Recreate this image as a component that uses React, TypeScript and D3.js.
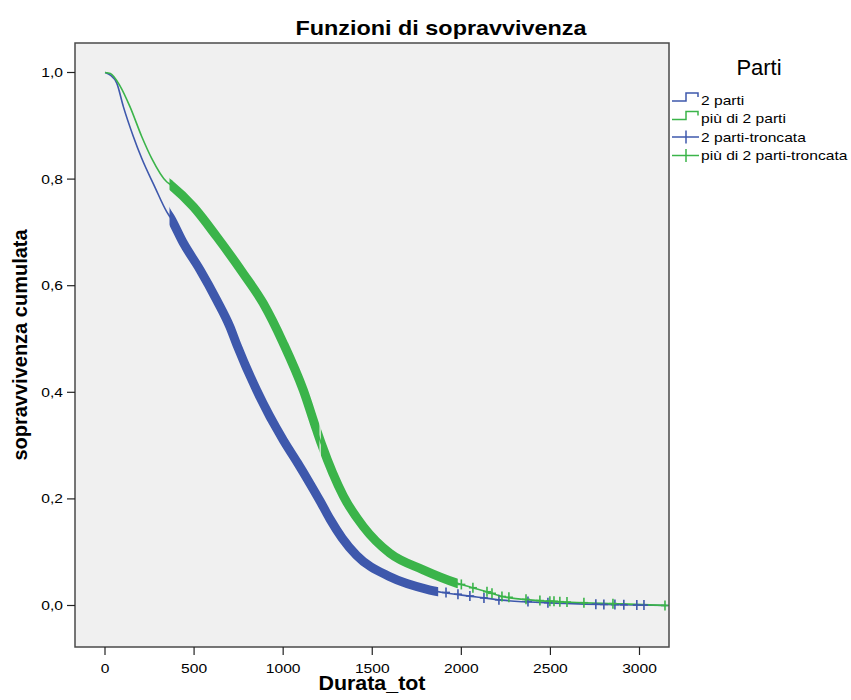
import React from 'react';
import * as d3 from 'd3';

// Kaplan-Meier estimates (time, cumulative survival)
const blueTimes = [0, 30, 66, 103, 159, 206, 280, 346, 365, 440, 533, 627, 701, 739, 851, 1001, 1080, 1150, 1207, 1263, 1330, 1412, 1599, 1824, 2086, 2228, 2500, 2800, 3160];
const blueSurv = [1.0, 0.995, 0.98, 0.936, 0.88, 0.839, 0.785, 0.739, 0.729, 0.68, 0.63, 0.573, 0.523, 0.49, 0.404, 0.31, 0.268, 0.229, 0.196, 0.162, 0.127, 0.094, 0.054, 0.029, 0.016, 0.01, 0.005, 0.002, 0.0];

const greenTimes = [0, 30, 84, 140, 206, 262, 346, 365, 496, 627, 776, 888, 1001, 1113, 1188, 1216, 1337, 1450, 1599, 1786, 1974, 2142, 2228, 2400, 2615, 2900, 3150];
const greenSurv = [1.0, 0.998, 0.975, 0.936, 0.88, 0.839, 0.795, 0.79, 0.748, 0.692, 0.623, 0.567, 0.492, 0.404, 0.329, 0.302, 0.206, 0.148, 0.098, 0.067, 0.042, 0.026, 0.017, 0.01, 0.006, 0.003, 0.0];

// ranges where censored marks are so dense they merge into a band
const blueDense = [[362, 1870]];
const greenDense = [[362, 1204], [1211, 1980]];

// sparse censored times in the tail
const blueCensored = [1914, 1981, 2048, 2127, 2211, 2374, 2486, 2755, 2800, 2862, 2912, 2985, 3025];
const greenCensored = [2000, 2065, 2144, 2172, 2228, 2267, 2363, 2441, 2497, 2520, 2553, 2593, 2688, 2851, 3143];

const xTicks = [0, 500, 1000, 1500, 2000, 2500, 3000];
const yTicks = [0, 0.2, 0.4, 0.6, 0.8, 1.0];

const legendLabels = ['2 parti', 'più di 2 parti', '2 parti-troncata', 'più di 2 parti-troncata'];

const BLUE = '#3E58AC';
const GREEN = '#3BB44A';
const FONT = '"Liberation Sans", Arial, sans-serif';

function Txt(props: { x: number; y: number; size: number; sx?: number; anchor?: string; bold?: boolean; rotate?: number; children: any }) {
  const { x, y, size, sx = 1, anchor = 'start', bold, rotate = 0, children } = props;
  return (
    <text
      transform={`translate(${x},${y}) rotate(${rotate}) scale(${sx},1)`}
      textAnchor={anchor}
      fontFamily={FONT}
      fontSize={size}
      fontWeight={bold ? 'bold' : 'normal'}
      fill="#000"
    >
      {children}
    </text>
  );
}

export default function App() {
  const plot = { left: 75, top: 43, right: 669, bottom: 647 };

  const x = d3.scaleLinear().domain([0, 3000]).range([105, 639.5]);
  const y = d3.scaleLinear().domain([0, 1]).range([605.5, 72.5]);

  const line = d3.line<[number, number]>()
    .x(d => x(d[0]))
    .y(d => y(d[1]))
    .curve(d3.curveMonotoneX);

  const blueData = blueTimes.map((t, i) => [t, blueSurv[i]] as [number, number]);
  const greenData = greenTimes.map((t, i) => [t, greenSurv[i]] as [number, number]);
  const bluePath = line(blueData) || '';
  const greenPath = line(greenData) || '';

  // survival value at a time, read from the listed points (for placing the tail marks)
  const survAt = (times: number[], surv: number[], t: number) => {
    const i = d3.bisectRight(times, t) - 1;
    if (i >= times.length - 1) return surv[surv.length - 1];
    const f = (t - times[i]) / (times[i + 1] - times[i]);
    return surv[i] + f * (surv[i + 1] - surv[i]);
  };

  const cross = (cx: number, cy: number, color: string, key: string) => (
    <g key={key} stroke={color} strokeWidth={1.6}>
      <line x1={cx - 4} x2={cx + 4} y1={cy} y2={cy} />
      <line x1={cx} x2={cx} y1={cy - 5} y2={cy + 5} />
    </g>
  );

  const series = [
    { path: bluePath, color: BLUE, dense: blueDense, cens: blueCensored, times: blueTimes, surv: blueSurv, id: 'b' },
    { path: greenPath, color: GREEN, dense: greenDense, cens: greenCensored, times: greenTimes, surv: greenSurv, id: 'g' },
  ];

  const legendRows = [100, 118.5, 137, 155.5];

  return (
    <svg width={851} height={700} style={{ position: 'absolute', left: 0, top: 0, background: '#fff' }}>
      <defs>
        <clipPath id="plotClip">
          <rect x={plot.left} y={plot.top} width={plot.right - plot.left} height={plot.bottom - plot.top} />
        </clipPath>
        {series.map(s => (
          <clipPath id={`dense-${s.id}`} key={s.id}>
            {s.dense.map((r, i) => (
              <rect key={i} x={x(r[0])} y={plot.top} width={x(r[1]) - x(r[0])} height={plot.bottom - plot.top} />
            ))}
          </clipPath>
        ))}
      </defs>

      <rect x={plot.left} y={plot.top} width={plot.right - plot.left} height={plot.bottom - plot.top} fill="#F0F0F0" />

      <g clipPath="url(#plotClip)">
        {series.map(s => (
          <g key={s.id}>
            <path d={s.path} fill="none" stroke={s.color} strokeWidth={1.6} />
            <path d={s.path} fill="none" stroke={s.color} strokeWidth={9} clipPath={`url(#dense-${s.id})`} />
          </g>
        ))}
        {series.map(s => s.cens.map((t, i) => cross(x(t), y(survAt(s.times, s.surv, t)), s.color, `${s.id}${i}`)))}
      </g>

      <rect x={plot.left} y={plot.top} width={plot.right - plot.left} height={plot.bottom - plot.top} fill="none" stroke="#4a4a4a" strokeWidth={1.5} />

      {/* y axis */}
      {yTicks.map(v => (
        <g key={v}>
          <line x1={67} x2={plot.left} y1={y(v)} y2={y(v)} stroke="#222" strokeWidth={1.2} />
          <Txt x={63} y={y(v) + 4.5} size={13} sx={1.2} anchor="end">{d3.format('.1f')(v).replace('.', ',')}</Txt>
        </g>
      ))}

      {/* x axis */}
      {xTicks.map(v => (
        <g key={v}>
          <line x1={x(v)} x2={x(v)} y1={plot.bottom} y2={plot.bottom + 8} stroke="#222" strokeWidth={1.2} />
          <Txt x={x(v)} y={673} size={13} sx={1.2} anchor="middle">{String(v)}</Txt>
        </g>
      ))}

      <Txt x={441} y={35} size={20} sx={1.17} anchor="middle" bold>Funzioni di sopravvivenza</Txt>
      <Txt x={372} y={690} size={20} sx={1.07} anchor="middle" bold>Durata_tot</Txt>
      <Txt x={27} y={345} size={20} anchor="middle" bold rotate={-90}>sopravvivenza cumulata</Txt>

      {/* legend */}
      <Txt x={759} y={75} size={22} anchor="middle">Parti</Txt>
      {legendLabels.map((lab, i) => {
        const cy = legendRows[i];
        const color = i % 2 === 0 ? BLUE : GREEN;
        return (
          <g key={lab}>
            {i < 2 ? (
              <path d={`M672,${cy + 1} H686 V${cy - 7} H698 V${cy - 3}`} fill="none" stroke={color} strokeWidth={1.5} />
            ) : (
              <g stroke={color} strokeWidth={1.5}>
                <line x1={672} x2={699} y1={cy} y2={cy} />
                <line x1={686} x2={686} y1={cy - 6.5} y2={cy + 6.5} />
              </g>
            )}
            <Txt x={701} y={cy + 4.5} size={13} sx={1.2}>{lab}</Txt>
          </g>
        );
      })}
    </svg>
  );
}
